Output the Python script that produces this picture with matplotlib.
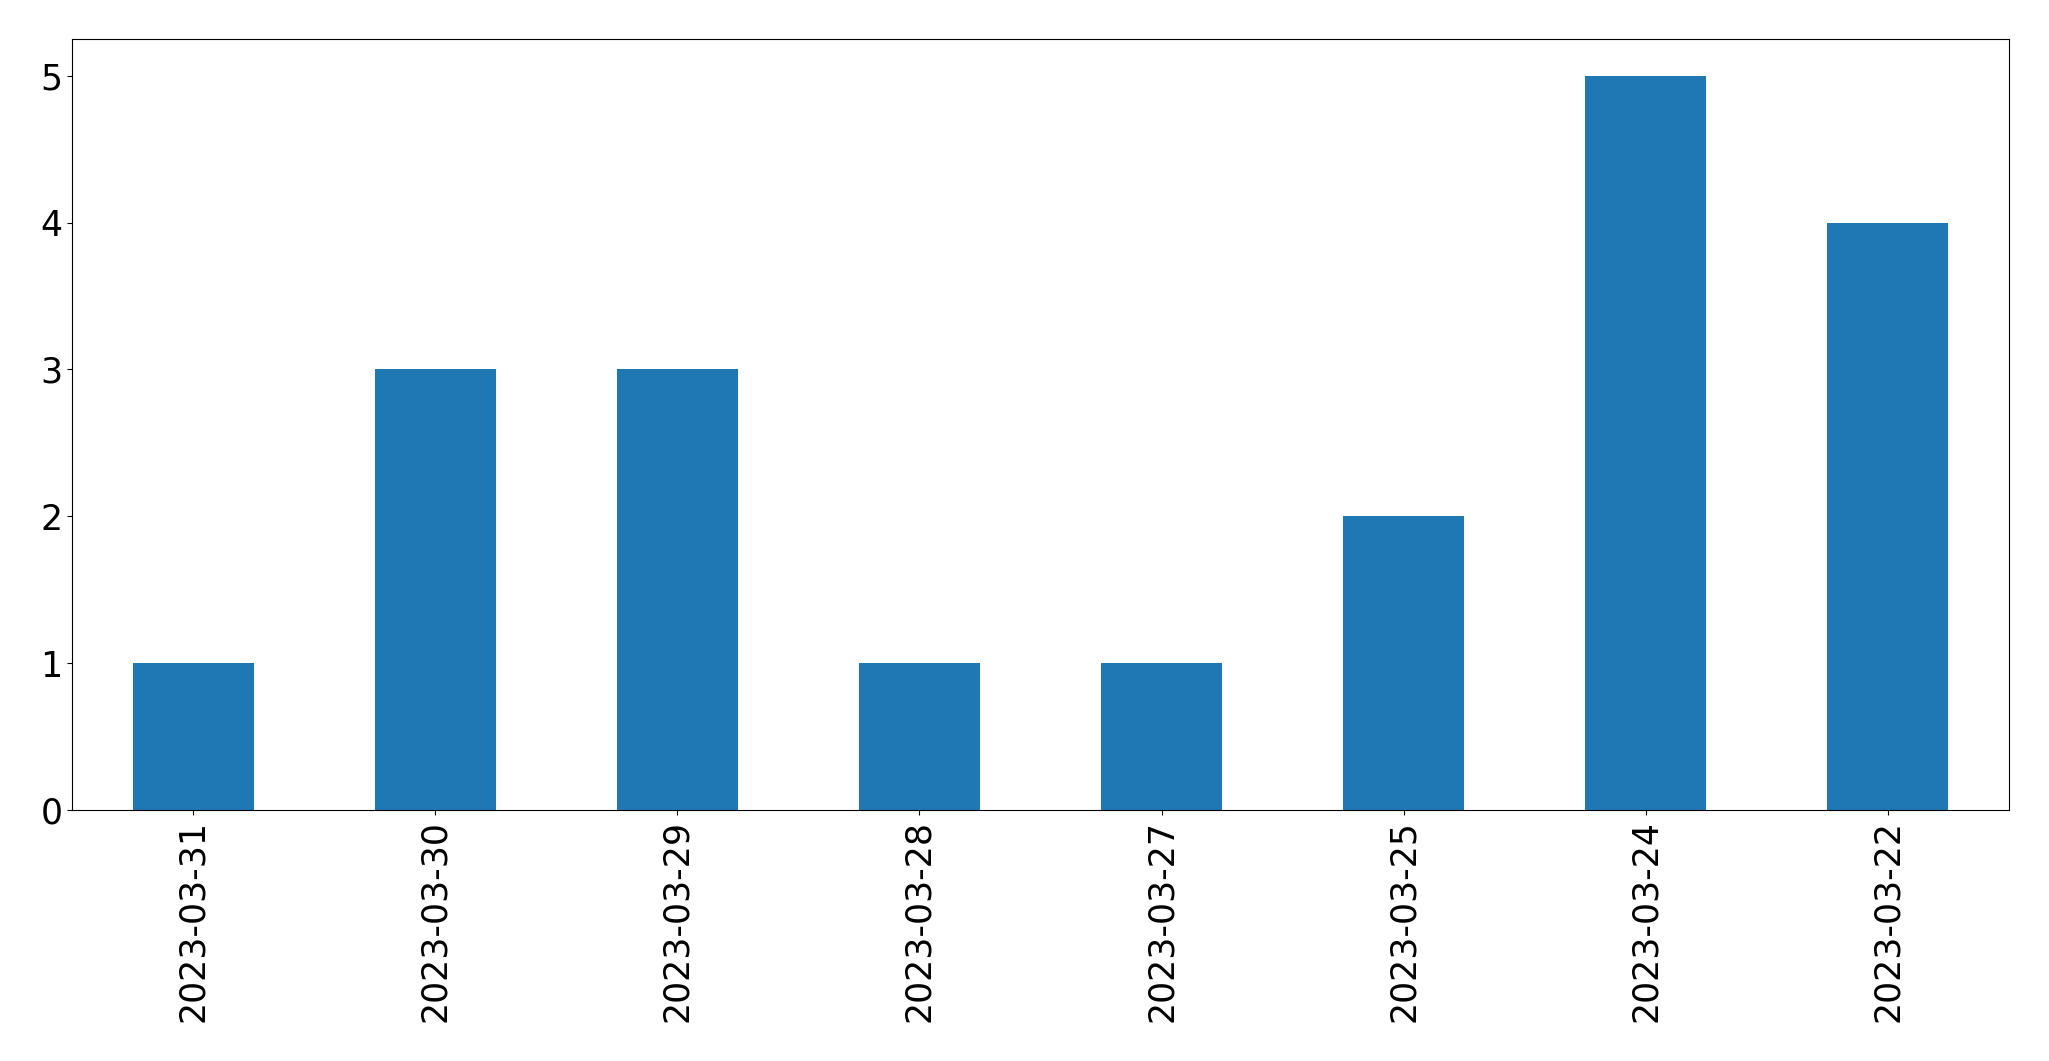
import matplotlib
matplotlib.use('Agg')
import matplotlib.pyplot as plt
import numpy as np

dates = ['2023-03-31', '2023-03-30', '2023-03-29', '2023-03-28',
         '2023-03-27', '2023-03-25', '2023-03-24', '2023-03-22']
counts = [1, 3, 3, 1, 1, 2, 5, 4]

fig = plt.figure(figsize=(20.49, 10.61), dpi=100)
ax = fig.add_axes([72 / 2049, 1 - 810 / 1061, (2009 - 72) / 2049, (810 - 39) / 1061])

x = np.arange(len(dates))
ax.bar(x, counts, width=0.5, color='#1f77b4')
ax.set_xlim(-0.5, len(dates) - 0.5)
ax.set_ylim(0, 5.25)
ax.set_xticks(x)
ax.set_xticklabels(dates, rotation=90)
ax.tick_params(axis='both', labelsize=25)

fig.savefig('out.png', dpi=100)
